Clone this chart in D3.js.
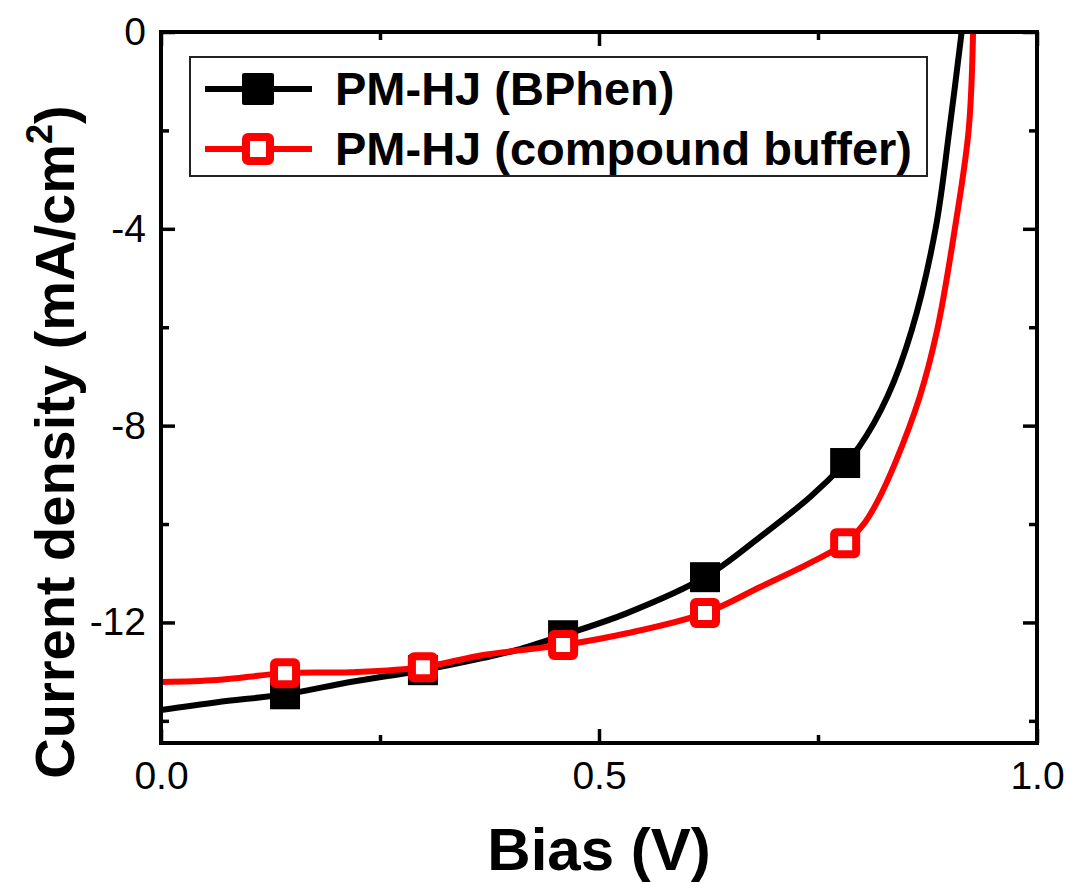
<!DOCTYPE html>
<meta charset="utf-8">
<style>
  body { margin: 0; background: #fff; }
  text { font-family: "Liberation Sans", Arial, sans-serif; fill: #000; }
</style>
<svg width="1068" height="882"></svg>

<script src="https://d3js.org/d3.v7.min.js"></script>
<script>
// J-V curves
var bphenBias = [0, 0.064, 0.1416, 0.216, 0.299, 0.368, 0.406, 0.459, 0.532, 0.621, 0.684, 0.741, 0.781, 0.797, 0.829, 0.857, 0.884, 0.900, 0.914]
var bphenJ    = [-13.78, -13.62, -13.46, -13.21, -12.97, -12.72, -12.56, -12.26, -11.81, -11.08, -10.26, -9.45, -8.76, -8.43, -7.42, -6.06, -4.02, -1.99, 0]

var bufferBias = [0, 0.064, 0.1416, 0.216, 0.299, 0.368, 0.459, 0.532, 0.621, 0.684, 0.741, 0.781, 0.803, 0.817, 0.838, 0.866, 0.886, 0.906, 0.922, 0.927]
var bufferJ    = [-13.21, -13.17, -13.03, -13.01, -12.91, -12.66, -12.46, -12.22, -11.81, -11.28, -10.79, -10.39, -9.98, -9.57, -8.76, -7.42, -6.06, -4.02, -1.99, 0]

// symbols
var markerBias = [0.1416, 0.299, 0.459, 0.621, 0.781]
var bphenMarkJ = [-13.46, -12.97, -12.26, -11.08, -8.76]
var bufferMarkJ = [-13.03, -12.91, -12.46, -11.81, -10.39]

var xTicks = [0, 0.5, 1.0]
var xMinor = [0.25, 0.75]
var yTicks = [0, -4, -8, -12]
var yMinor = [-2, -6, -10, -14]

var seriesNames = ["PM-HJ (BPhen)", "PM-HJ (compound buffer)"]

var svg = d3.select('svg')
var pLeft = 161, pRight = 1037, pTop = 32, pBottom = 743

var x = d3.scaleLinear().domain([0, 1]).range([pLeft, pRight])
var y = d3.scaleLinear().domain([-14.45, 0]).range([pBottom, pTop])

function zip(a, b) { return a.map(function (v, i) { return [v, b[i]] }) }

svg.append('clipPath').attr('id', 'clip')
  .append('rect').attr('x', pLeft).attr('y', pTop)
  .attr('width', pRight - pLeft).attr('height', pBottom - pTop)

var line = d3.line()
  .x(function (d) { return x(d[0]) })
  .y(function (d) { return y(d[1]) })
  .curve(d3.curveCatmullRom.alpha(0.5))

var plot = svg.append('g').attr('clip-path', 'url(#clip)')

// BPhen: black line, filled squares
plot.append('path')
  .datum(zip(bphenBias, bphenJ))
  .attr('d', line)
  .attr('fill', 'none').attr('stroke', '#000').attr('stroke-width', 6)

plot.selectAll('rect.bphen')
  .data(zip(markerBias, bphenMarkJ))
  .enter().append('rect')
    .attr('class', 'bphen')
    .attr('x', function (d) { return x(d[0]) - 15 })
    .attr('y', function (d) { return y(d[1]) - 15 })
    .attr('width', 30).attr('height', 30)
    .attr('fill', '#000')

// compound buffer: red line, open squares
plot.append('path')
  .datum(zip(bufferBias, bufferJ))
  .attr('d', line)
  .attr('fill', 'none').attr('stroke', '#ff0000').attr('stroke-width', 6)

plot.selectAll('rect.buffer')
  .data(zip(markerBias, bufferMarkJ))
  .enter().append('rect')
    .attr('class', 'buffer')
    .attr('x', function (d) { return x(d[0]) - 11 })
    .attr('y', function (d) { return y(d[1]) - 11 })
    .attr('width', 22).attr('height', 22)
    .attr('rx', 2)
    .attr('fill', '#fff').attr('stroke', '#ff0000').attr('stroke-width', 8)

// axes: frame with inward ticks on all four sides
var axisG = svg.append('g')

var xAxisG = axisG.append('g').attr('transform', 'translate(0,' + pBottom + ')')
  .call(d3.axisBottom(x).tickValues(xTicks).tickSizeInner(-14).tickSizeOuter(0)
    .tickFormat(d3.format('.1f')))
axisG.append('g').attr('transform', 'translate(0,' + pBottom + ')')
  .call(d3.axisBottom(x).tickValues(xMinor).tickSizeInner(-8).tickSizeOuter(0).tickFormat(''))
axisG.append('g').attr('transform', 'translate(0,' + pTop + ')')
  .call(d3.axisTop(x).tickValues(xTicks).tickSizeInner(-14).tickSizeOuter(0).tickFormat(''))
axisG.append('g').attr('transform', 'translate(0,' + pTop + ')')
  .call(d3.axisTop(x).tickValues(xMinor).tickSizeInner(-8).tickSizeOuter(0).tickFormat(''))

var yAxisG = axisG.append('g').attr('transform', 'translate(' + pLeft + ',0)')
  .call(d3.axisLeft(y).tickValues(yTicks).tickSizeInner(-14).tickSizeOuter(0)
    .tickFormat(function (d) { return String(d) }))
axisG.append('g').attr('transform', 'translate(' + pLeft + ',0)')
  .call(d3.axisLeft(y).tickValues(yMinor).tickSizeInner(-8).tickSizeOuter(0).tickFormat(''))
axisG.append('g').attr('transform', 'translate(' + pRight + ',0)')
  .call(d3.axisRight(y).tickValues(yTicks).tickSizeInner(-14).tickSizeOuter(0).tickFormat(''))
axisG.append('g').attr('transform', 'translate(' + pRight + ',0)')
  .call(d3.axisRight(y).tickValues(yMinor).tickSizeInner(-8).tickSizeOuter(0).tickFormat(''))

axisG.selectAll('.domain').remove()
axisG.selectAll('.tick line').attr('stroke', '#000').attr('stroke-width', 3.5)
axisG.selectAll('.tick text')
  .attr('font-family', '"Liberation Sans", Arial, sans-serif')
  .attr('font-size', 39).attr('fill', '#000')

xAxisG.selectAll('.tick text').attr('y', 18)
yAxisG.selectAll('.tick text').attr('x', -15)

svg.append('rect')
  .attr('x', pLeft).attr('y', pTop)
  .attr('width', pRight - pLeft).attr('height', pBottom - pTop)
  .attr('fill', 'none').attr('stroke', '#000').attr('stroke-width', 4)

// legend
var legend = svg.append('g')
legend.append('rect')
  .attr('x', 190).attr('y', 57).attr('width', 737).attr('height', 119)
  .attr('fill', '#fff').attr('stroke', '#222').attr('stroke-width', 2)

var legendRows = legend.selectAll('g.row')
  .data(seriesNames)
  .enter().append('g')
    .attr('class', 'row')
    .attr('transform', function (d, i) { return 'translate(0,' + (89 + i * 60) + ')' })

legendRows.append('line')
  .attr('x1', 205).attr('x2', 312)
  .attr('stroke', function (d, i) { return i === 0 ? '#000' : '#ff0000' })
  .attr('stroke-width', 6)

legendRows.append('rect')
  .attr('x', function (d, i) { return i === 0 ? 242 : 246 })
  .attr('y', function (d, i) { return i === 0 ? -16 : -12 })
  .attr('width', function (d, i) { return i === 0 ? 32 : 24 })
  .attr('height', function (d, i) { return i === 0 ? 32 : 24 })
  .attr('rx', 2)
  .attr('fill', function (d, i) { return i === 0 ? '#000' : '#fff' })
  .attr('stroke', function (d, i) { return i === 0 ? 'none' : '#ff0000' })
  .attr('stroke-width', 8)

legendRows.append('text')
  .attr('x', 335).attr('y', 16)
  .attr('font-size', 47).attr('font-weight', 'bold')
  .text(function (d) { return d })

// axis titles
svg.append('text')
  .attr('x', (pLeft + pRight) / 2).attr('y', 870)
  .attr('text-anchor', 'middle')
  .attr('font-size', 60).attr('font-weight', 'bold')
  .text('Bias (V)')

var yTitle = svg.append('text')
  .attr('transform', 'translate(74,' + 442 + ') rotate(-90)')
  .attr('text-anchor', 'middle')
  .attr('font-size', 56).attr('font-weight', 'bold')
yTitle.append('tspan').text('Current density (mA/cm')
yTitle.append('tspan').attr('font-size', 36).attr('dy', -22).text('2')
yTitle.append('tspan').attr('dy', 22).text(')')
</script>
